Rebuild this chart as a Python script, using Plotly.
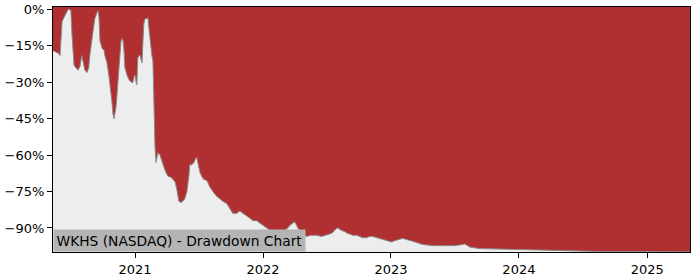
import plotly.graph_objects as go

dates = [
    "2020-05-12", "2020-05-21", "2020-05-27", "2020-06-01", "2020-06-04", "2020-06-07", "2020-06-10",
    "2020-06-15", "2020-06-21", "2020-06-24", "2020-06-29", "2020-07-02", "2020-07-05", "2020-07-08",
    "2020-07-11", "2020-07-16", "2020-07-22", "2020-07-28", "2020-08-02", "2020-08-05", "2020-08-11",
    "2020-08-17", "2020-08-22", "2020-08-25", "2020-08-31", "2020-09-03", "2020-09-08", "2020-09-14",
    "2020-09-17", "2020-09-20", "2020-09-23", "2020-09-29", "2020-10-05", "2020-10-07", "2020-10-13",
    "2020-10-19", "2020-10-24", "2020-10-27", "2020-10-30", "2020-11-02", "2020-11-08", "2020-11-10",
    "2020-11-16", "2020-11-19", "2020-11-22", "2020-11-25", "2020-11-28", "2020-12-01", "2020-12-03",
    "2020-12-09", "2020-12-15", "2020-12-21", "2020-12-26", "2020-12-29", "2021-01-01", "2021-01-04",
    "2021-01-06", "2021-01-09", "2021-01-12", "2021-01-15", "2021-01-18", "2021-01-21", "2021-01-23",
    "2021-01-26", "2021-01-29", "2021-02-04", "2021-02-07", "2021-02-09", "2021-02-12", "2021-02-15",
    "2021-02-18", "2021-02-21", "2021-02-24", "2021-02-27", "2021-03-02", "2021-03-04", "2021-03-07",
    "2021-03-13", "2021-03-19", "2021-03-24", "2021-03-27", "2021-04-02", "2021-04-08", "2021-04-13",
    "2021-04-19", "2021-04-25", "2021-04-30", "2021-05-03", "2021-05-06", "2021-05-12", "2021-05-17",
    "2021-05-23", "2021-05-29", "2021-06-04", "2021-06-06", "2021-06-12", "2021-06-18", "2021-06-24",
    "2021-06-26", "2021-06-29", "2021-07-05", "2021-07-11", "2021-07-16", "2021-07-25", "2021-08-02",
    "2021-08-11", "2021-08-22", "2021-08-31", "2021-09-08", "2021-09-20", "2021-09-28", "2021-10-07",
    "2021-10-18", "2021-10-27", "2021-11-05", "2021-11-16", "2021-11-25", "2021-12-03", "2021-12-14",
    "2021-12-23", "2022-01-01", "2022-01-12", "2022-01-26", "2022-02-10", "2022-02-24", "2022-03-04",
    "2022-03-13", "2022-03-18", "2022-03-27", "2022-04-02", "2022-04-07", "2022-04-10", "2022-04-16",
    "2022-04-21", "2022-04-30", "2022-05-05", "2022-05-19", "2022-06-03", "2022-06-17", "2022-07-01",
    "2022-07-10", "2022-07-18", "2022-07-27", "2022-08-02", "2022-08-07", "2022-08-13", "2022-08-22",
    "2022-08-27", "2022-09-05", "2022-09-14", "2022-09-25", "2022-10-04", "2022-10-12", "2022-10-24",
    "2022-11-01", "2022-11-10", "2022-11-21", "2022-11-30", "2022-12-11", "2022-12-20", "2022-12-28",
    "2023-01-03", "2023-01-11", "2023-01-17", "2023-01-26", "2023-02-03", "2023-02-15", "2023-02-23",
    "2023-03-04", "2023-03-15", "2023-03-24", "2023-04-01", "2023-04-13", "2023-04-21", "2023-05-05",
    "2023-05-20", "2023-06-03", "2023-06-17", "2023-07-01", "2023-07-16", "2023-07-24", "2023-07-30",
    "2023-08-07", "2023-08-13", "2023-08-27", "2023-09-10", "2023-10-09", "2023-11-06", "2023-12-05",
    "2024-01-03", "2024-02-01", "2024-03-01", "2024-03-29", "2024-04-27", "2024-05-26", "2024-06-24",
    "2024-08-20", "2024-10-16", "2024-12-12", "2025-02-07", "2025-05-03",
]

drawdown = [
    -17, -17.5, -18, -19, -12, -5, -4,
    -2.5, -1, 0, 0, -0.5, -10, -20,
    -23, -24, -25, -23.5, -19, -21, -25,
    -26, -24, -19, -13, -9, -4, -1.5,
    -0.5, -3, -13, -16, -17, -19, -22,
    -28, -33, -38, -43, -45, -40, -36,
    -28, -20, -13, -12, -13, -18, -24,
    -27, -29, -30, -30, -28, -27, -30,
    -31, -20, -19, -19, -21, -22, -15,
    -6, -4, -3.5, -3.5, -7, -11, -16,
    -19, -21, -45, -57, -63, -61, -59,
    -60, -63, -65, -66, -68, -69, -69,
    -70, -71, -74, -77, -79, -79.5, -79,
    -78, -75, -68, -64, -64, -63, -61,
    -61, -63, -67, -69, -70, -70.5, -73,
    -75, -77, -78, -79, -80, -82, -84,
    -84, -83, -84, -85, -86, -87, -87,
    -88, -89, -90, -91.5, -92, -91.5, -91,
    -90, -89, -88, -87.5, -89, -90, -91,
    -92, -93, -93.5, -93, -93, -93.5, -93,
    -92.5, -92, -90.5, -90, -90.5, -91, -91.5,
    -92, -92.5, -93, -93, -93.5, -94, -94,
    -93.5, -93.5, -94, -94.5, -95, -95.3, -95.5,
    -95.8, -95.3, -95, -94.5, -94.3, -94.8, -95,
    -95.5, -96, -96.5, -96.8, -97, -97.2, -97.3,
    -97.3, -97.4, -97.5, -97.3, -97, -96.8, -96.6,
    -97.2, -97.8, -98.2, -98.5, -98.6, -98.7, -98.8,
    -98.8, -98.9, -99, -99.1, -99.3, -99.4, -99.6,
    -99.7, -99.7, -99.8, -99.8, -99.85,
]

y_tick_vals = [0, -15, -30, -45, -60, -75, -90]
y_tick_text = ["0%", "\u221215%", "\u221230%", "\u221245%", "\u221260%", "\u221275%", "\u221290%"]
x_tick_vals = ["2021-01-01", "2022-01-01", "2023-01-01", "2024-01-01", "2025-01-01"]
x_tick_text = ["2021", "2022", "2023", "2024", "2025"]

title_text = "WKHS (NASDAQ) - Drawdown Chart"
Y_MIN = -99.9
Y_MAX = 1.0
BASE = -120

RED = "#b03031"
GRAY_FILL = "#ededed"

fig = go.Figure()
fig.add_trace(go.Scatter(
    x=dates, y=[BASE] * len(dates), mode="lines",
    line=dict(width=0, color=GRAY_FILL), hoverinfo="skip", showlegend=False,
))
fig.add_trace(go.Scatter(
    x=dates, y=drawdown, mode="lines", fill="tonexty", fillcolor=GRAY_FILL,
    line=dict(color="#8a8a8a", width=1), showlegend=False,
))

axis_font = dict(family="DejaVu Sans", size=13, color="black")
fig.update_layout(
    width=700, height=280,
    margin=dict(l=53, r=10, t=7, b=28, autoexpand=False),
    paper_bgcolor="white",
    plot_bgcolor=RED,
    font=axis_font,
    xaxis=dict(
        type="date", range=["2020-05-12", "2025-05-03"],
        tickvals=x_tick_vals, ticktext=x_tick_text,
        showgrid=False, zeroline=False, automargin=False,
        showline=True, linecolor="black", linewidth=1, mirror=True,
        ticks="outside", ticklen=5, tickcolor="black", tickwidth=1,
        tickfont=axis_font,
    ),
    yaxis=dict(
        range=[Y_MIN, Y_MAX],
        tickvals=y_tick_vals, ticktext=y_tick_text,
        showgrid=False, zeroline=False, automargin=False,
        showline=True, linecolor="black", linewidth=1, mirror=True,
        ticks="outside", ticklen=5, tickcolor="black", tickwidth=1,
        tickfont=axis_font,
    ),
    annotations=[dict(
        text=title_text, xref="paper", yref="paper", x=0, y=0,
        xanchor="left", yanchor="bottom", showarrow=False,
        font=dict(family="DejaVu Sans", size=13.8, color="black"),
        bgcolor="#b4b4b4", borderpad=2.5,
    )],
)

fig.write_html("out.html")
